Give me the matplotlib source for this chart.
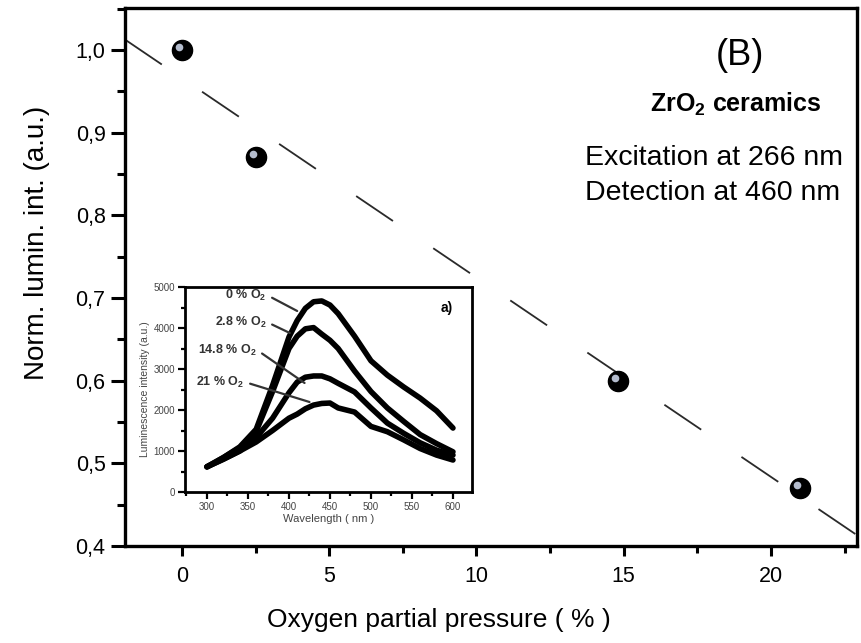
import numpy as np
import matplotlib
matplotlib.use("Agg")
import matplotlib.pyplot as plt
import matplotlib.transforms as mtransforms
from matplotlib.ticker import MultipleLocator, FuncFormatter

plt.rcParams['font.family'] = ['Liberation Sans', 'DejaVu Sans']
plt.rcParams['mathtext.fontset'] = 'custom'
plt.rcParams['mathtext.rm'] = 'Liberation Sans'
plt.rcParams['mathtext.bf'] = 'Liberation Sans:bold'
plt.rcParams['lines.scale_dashes'] = False

# normalized luminescence vs O2 partial pressure
o2_pct = [0.0, 2.5, 14.8, 21.0]
norm_lum = [1.0, 0.87, 0.60, 0.47]

# inset spectra (wavelength in nm, intensity in a.u.)
wavelength = [300, 320, 340, 360, 380, 400, 410, 420, 430, 440, 450, 460,
              480, 500, 520, 540, 560, 580, 600]
spec_0 = [615, 840, 1100, 1530, 2600, 3780, 4180, 4480, 4640, 4660, 4560, 4350,
          3800, 3200, 2850, 2560, 2290, 1980, 1560]
spec_2_8 = [615, 840, 1080, 1480, 2450, 3500, 3800, 3980, 4010, 3850, 3700, 3500,
            2950, 2450, 2050, 1720, 1400, 1180, 980]
spec_14_8 = [615, 800, 1000, 1330, 1800, 2420, 2680, 2800, 2830, 2830, 2760, 2650,
             2440, 2050, 1680, 1430, 1200, 1020, 900]
spec_21 = [615, 800, 1000, 1220, 1500, 1800, 1900, 2030, 2120, 2160, 2170, 2050,
           1950, 1600, 1470, 1270, 1060, 900, 780]
spectra = [spec_0, spec_2_8, spec_14_8, spec_21]
spec_labels = ['0 % O$_\\mathbf{2}$', '2.8 % O$_\\mathbf{2}$',
               '14.8 % O$_\\mathbf{2}$', '21 % O$_\\mathbf{2}$']
label_pos = [(373, 4805), (373, 4146), (361, 3463), (346, 2683)]
arrow_end = [(410, 4415), (401, 3878), (419, 2659), (425, 2195)]

W, H = 862, 643
fig = plt.figure(figsize=(W / 100, H / 100), dpi=100)
ax = fig.add_axes([125 / W, 97 / H, 732 / W, 538 / H])

ax.set_xlim(-1.935, 22.92)
ax.set_ylim(0.4, 1.0508)

# linear fit through the points, drawn across the whole axis
k, b = np.polyfit(o2_pct, norm_lum, 1)
xf = np.array(ax.get_xlim())
ax.plot(xf, k * xf + b, color='#2a2a2a', lw=1.3, dashes=(32, 35), zorder=2)

ax.plot(o2_pct, norm_lum, 'o', ms=14.5, color='black', zorder=3)
hl = mtransforms.offset_copy(ax.transData, fig=fig, x=-3, y=3, units='dots')
ax.plot(o2_pct, norm_lum, 'o', ms=5.5, color='#b4bccd', mec='none',
        transform=hl, zorder=4)

for s in ax.spines.values():
    s.set_linewidth(2.4)
ax.xaxis.set_major_locator(MultipleLocator(5))
ax.xaxis.set_minor_locator(MultipleLocator(2.5))
ax.yaxis.set_major_locator(MultipleLocator(0.1))
ax.yaxis.set_minor_locator(MultipleLocator(0.05))
ax.yaxis.set_major_formatter(FuncFormatter(lambda v, p: f"{v:.1f}".replace('.', ',')))
ax.tick_params(axis='x', which='major', direction='out', length=7.5, width=2.2,
               labelsize=15.5, pad=7)
ax.tick_params(axis='x', which='minor', direction='out', length=5, width=2.2)
ax.tick_params(axis='y', which='major', direction='out', length=10, width=2.2,
               labelsize=15.5, pad=4)
ax.tick_params(axis='y', which='minor', direction='out', length=6, width=2.2)

ax.set_xlabel('Oxygen partial pressure ( % )', fontsize=19, va='center')
ax.xaxis.set_label_coords(0.429, -0.1375)
ax.set_ylabel('Norm. lumin. int. (a.u.)', fontsize=20, va='center')
ax.yaxis.set_label_coords(-0.120, 0.563)

ax.text(0.840, 0.911, '(B)', fontsize=26, ha='center', va='center',
        transform=ax.transAxes)
ax.text(0.834, 0.8067, 'ZrO$_\\mathbf{2}$ ceramics', fontsize=18,
        fontweight='bold', ha='center', va='baseline', transform=ax.transAxes)
ax.text(0.628, 0.7082, 'Excitation at 266 nm', fontsize=20.5, ha='left',
        va='baseline', transform=ax.transAxes)
ax.text(0.628, 0.643, 'Detection at 460 nm', fontsize=20.5, ha='left',
        va='baseline', transform=ax.transAxes)

# inset: emission spectra for each O2 content
ins = fig.add_axes([185 / W, 151 / H, 287 / W, 205 / H])
for spec in spectra:
    ins.plot(wavelength, spec, color='black', lw=4, solid_joinstyle='round',
             solid_capstyle='round')
for lab, pos, end in zip(spec_labels, label_pos, arrow_end):
    ins.annotate(lab, xy=end, xytext=pos, fontsize=9, fontweight='bold',
                 ha='right', va='center', color='#333333',
                 arrowprops=dict(arrowstyle='-', color='#333333', lw=1.6,
                                 shrinkA=2, shrinkB=0, relpos=(1, 0.5)))
ins.text(593, 4488, 'a)', fontsize=10, fontweight='bold', ha='center', va='center')
ins.set_xlim(273.2, 623.2)
ins.set_ylim(0, 5000)
ins.xaxis.set_major_locator(MultipleLocator(50))
ins.xaxis.set_minor_locator(MultipleLocator(25))
ins.yaxis.set_major_locator(MultipleLocator(1000))
ins.yaxis.set_minor_locator(MultipleLocator(500))
for s in ins.spines.values():
    s.set_linewidth(2)
ins.tick_params(which='major', direction='out', length=5, width=1.6,
                labelsize=7, labelcolor='#444444', pad=2)
ins.tick_params(which='minor', direction='out', length=3, width=1.6)
ins.set_xlabel('Wavelength ( nm )', fontsize=8, color='#444444', labelpad=2)
ins.set_ylabel('Luminescence intensity (a.u.)', fontsize=7.5, color='#444444',
               labelpad=3)

fig.savefig('out.png', dpi=100)
